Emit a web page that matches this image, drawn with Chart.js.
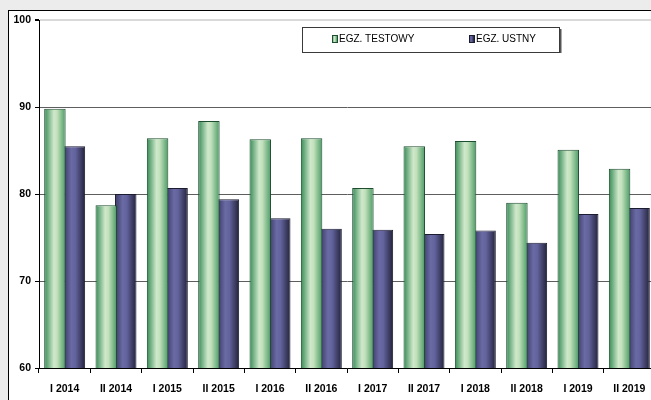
<!DOCTYPE html>
<html>
<head>
<meta charset="utf-8">
<script src="https://cdn.jsdelivr.net/npm/chart.js@4.4.1/dist/chart.umd.min.js"></script>
<style>
html, body { margin:0; padding:0; overflow:hidden; background:#ececec; }
#panel { position:absolute; left:8px; top:10px; width:700px; height:420px; background:#fff; border:1px solid #000; }
#ch1 { position:absolute; left:0; top:0; }
</style>
</head>
<body>
<div id="panel"></div>
<canvas id="ch1" width="680" height="400"></canvas>
<script>
// exam results per session
var labels = ['I 2014', 'II 2014', 'I 2015', 'II 2015', 'I 2016', 'II 2016', 'I 2017', 'II 2017', 'I 2018', 'II 2018', 'I 2019', 'II 2019'];
var testowy = [89.8, 78.7, 86.4, 88.4, 86.3, 86.4, 80.7, 85.5, 86.1, 79.0, 85.1, 82.9];
var ustny = [85.5, 80.0, 80.7, 79.4, 77.2, 76.0, 75.9, 75.4, 75.8, 74.4, 77.7, 78.4];
var yTicks = [60, 70, 80, 90, 100];

var FONT = "'Liberation Sans', Arial, sans-serif";
var CAT_PCT = 0.76, BAR_PCT = 1.1;

var greenStops = [[0, '#358a55'], [0.45, '#cfe8ca'], [0.6, '#c2e1bc'], [1, '#4a9a64']];
var purpleStops = [[0, '#3a3a66'], [0.35, '#6a6aa4'], [0.55, '#62629c'], [1, '#22223a']];

// horizontal shading across each bar, worked out from the x scale
function barGradient(ctx, stops) {
  var chart = ctx.chart, xs = chart.scales.x;
  if (!xs || ctx.dataIndex === undefined || !isFinite(xs.width) || xs.width <= 0) return stops[1][1];
  var catW = xs.width / labels.length;
  var slot = catW * CAT_PCT / 2;
  var px = xs.getPixelForValue(ctx.dataIndex);
  if (!isFinite(px)) return stops[1][1];
  var cx = px + (ctx.datasetIndex === 0 ? -slot / 2 : slot / 2);
  var half = slot * BAR_PCT / 2;
  var g = chart.ctx.createLinearGradient(cx - half, 0, cx + half, 0);
  stops.forEach(function (s) { g.addColorStop(s[0], s[1]); });
  return g;
}

// boxed legend inside the plot
var boxLegend = {
  id: 'boxLegend',
  afterDraw: function (chart) {
    var c = chart.ctx;
    var items = [[332, greenStops], [469, purpleStops]];
    c.save();
    c.fillStyle = '#fff';
    c.fillRect(302, 27, 257, 25);
    c.strokeStyle = '#3a3a3a';
    c.lineWidth = 1;
    c.strokeRect(302.5, 27.5, 257, 25);
    c.fillStyle = '#555';
    c.fillRect(560, 29, 1.5, 24);
    c.font = '10px ' + FONT;
    c.textBaseline = 'middle';
    chart.data.datasets.forEach(function (ds, i) {
      var x = items[i][0], st = items[i][1];
      var g = c.createLinearGradient(x, 0, x + 5, 0);
      st.forEach(function (s) { g.addColorStop(s[0], s[1]); });
      c.fillStyle = g;
      c.fillRect(x, 35, 5, 7);
      c.strokeStyle = i === 0 ? '#1f4d30' : '#1c1c30';
      c.strokeRect(x + 0.5, 35.5, 5, 7);
      c.fillStyle = '#000';
      c.fillText(ds.label, x + 7, 39);
    });
    c.restore();
  }
};

var el = document.getElementById('ch1').getContext('2d');
var myChart = new Chart(el, {
  type: 'bar',
  data: {
    labels: labels,
    datasets: [{
      label: 'EGZ. TESTOWY',
      data: testowy,
      backgroundColor: function (ctx) { return barGradient(ctx, greenStops); },
      borderColor: '#1f4d30',
      borderWidth: 1,
      categoryPercentage: CAT_PCT,
      barPercentage: BAR_PCT
    }, {
      label: 'EGZ. USTNY',
      data: ustny,
      backgroundColor: function (ctx) { return barGradient(ctx, purpleStops); },
      borderColor: '#1c1c30',
      borderWidth: 1,
      categoryPercentage: CAT_PCT,
      barPercentage: BAR_PCT
    }]
  },
  options: {
    responsive: false,
    animation: false,
    layout: { padding: { top: 20, right: 25, left: 0, bottom: 0 } },
    plugins: { legend: { display: false }, tooltip: { enabled: false } },
    scales: {
      x: {
        grid: { offset: true, drawOnChartArea: false, drawTicks: true, tickLength: 5, tickColor: '#000' },
        border: { color: '#000' },
        ticks: { color: '#000', font: { family: FONT, size: 10.5, weight: 'bold' }, padding: 10, maxRotation: 0, autoSkip: false },
        afterFit: function (s) { s.height = 32; }
      },
      y: {
        min: 60,
        max: 100,
        afterBuildTicks: function (s) { s.ticks = yTicks.map(function (v) { return { value: v }; }); },
        grid: {
          color: function (c) { return c.tick && c.tick.value === 100 ? '#d9d9d9' : '#5e5e5e'; },
          lineWidth: function (c) { return c.tick && c.tick.value === 100 ? 2 : 1; },
          tickColor: '#000',
          tickLength: 4
        },
        border: { color: '#000' },
        ticks: { color: '#000', font: { family: FONT, size: 10.5, weight: 'bold' }, padding: 4 },
        afterFit: function (s) { s.width = 39; }
      }
    }
  },
  plugins: [boxLegend]
});
</script>
</body>
</html>
